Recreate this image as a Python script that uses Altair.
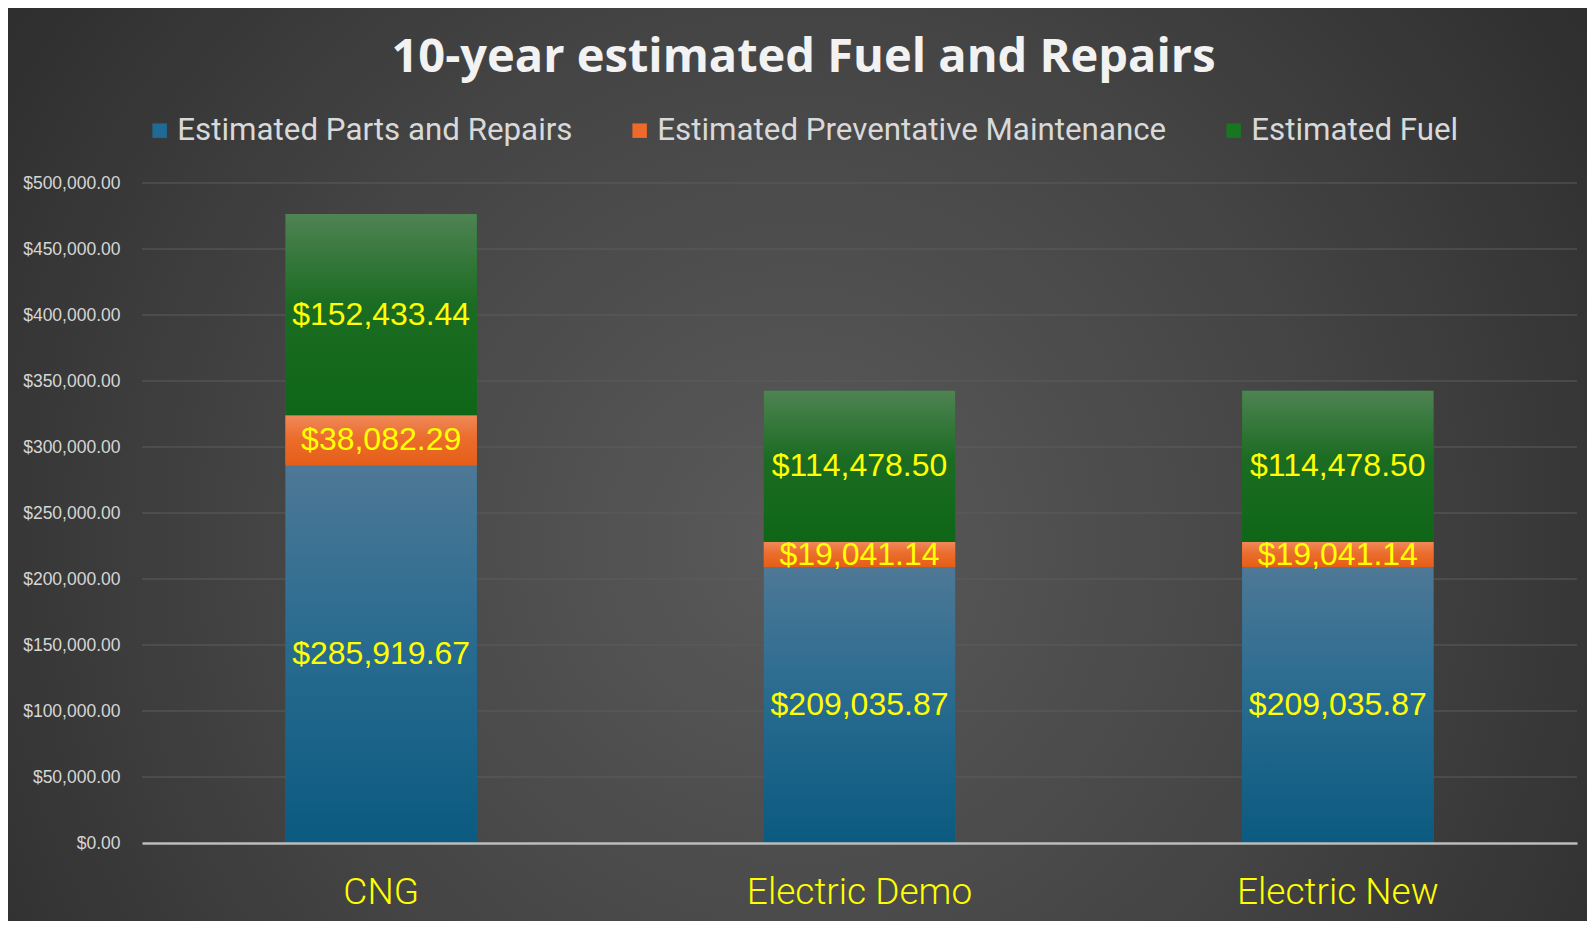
import altair as alt
import pandas as pd

categories = ["CNG", "Electric Demo", "Electric New"]
series_names = ["Estimated Parts and Repairs", "Estimated Preventative Maintenance", "Estimated Fuel"]
parts_repairs = [285919.67, 209035.87, 209035.87]
preventative = [38082.29, 19041.14, 19041.14]
fuel = [152433.44, 114478.50, 114478.50]
y_ticks = [0, 50000, 100000, 150000, 200000, 250000, 300000, 350000, 400000, 450000, 500000]

solid_colors = ["#1f6b96", "#ee6a2a", "#17761f"]

rows = []
for i, cat in enumerate(categories):
    base = 0.0
    for s, vals in zip(series_names, [parts_repairs, preventative, fuel]):
        v = vals[i]
        rows.append({"category": cat, "series": s, "value": v,
                     "start": base, "end": base + v, "mid": base + v / 2})
        base += v
df = pd.DataFrame(rows)
grid_df = pd.DataFrame({"tick": y_ticks[1:]})

W, H = 1435, 660
PAD_L, PAD_T = 134, 175
TOTAL_W, TOTAL_H = 1579, 913

xenc = alt.X("category:N", sort=categories, title=None,
             scale=alt.Scale(paddingInner=0.6, paddingOuter=0.3),
             axis=alt.Axis(labelColor="#ffff00", labelFont="Roboto", labelFontWeight=300,
                           labelFontSize=37, labelAngle=0, ticks=False, grid=False,
                           labelLimit=1000,
                           domainColor="#bdbdbd", domainWidth=2.5, labelPadding=31,
                           zindex=1))
yscale = alt.Scale(domain=[0, 500000], nice=False)

bg = alt.Chart(pd.DataFrame({"a": [0]})).mark_rect(
    fill=alt.Gradient(gradient="radial",
                      stops=[alt.GradientStop(color="#5a5a5a", offset=0),
                             alt.GradientStop(color="#444444", offset=0.45),
                             alt.GradientStop(color="#222222", offset=1)],
                      x1=0.5, y1=0.55, r1=0, x2=0.5, y2=0.55, r2=0.75)
).encode(x=alt.value(-PAD_L), x2=alt.value(TOTAL_W - PAD_L),
         y=alt.value(-PAD_T), y2=alt.value(TOTAL_H - PAD_T))

grid = alt.Chart(grid_df).mark_rule(color="#5c5c5c", strokeWidth=1.2).encode(
    y=alt.Y("tick:Q", scale=yscale), x=alt.value(0), x2=alt.value(W))

solid = alt.Chart(df).mark_bar().encode(
    x=xenc,
    y=alt.Y("start:Q", scale=yscale,
            axis=alt.Axis(values=y_ticks, format="$,.2f", labelColor="#d6d6d6",
                          labelFont="Liberation Sans", labelFontSize=17.5, domain=False,
                          ticks=False, grid=False, labelPadding=22, title=None, zindex=1)),
    y2="end:Q",
    color=alt.Color("series:N", scale=alt.Scale(domain=series_names, range=solid_colors),
                    legend=alt.Legend(orient="none", legendX=2, legendY=-68,
                                      direction="horizontal", title=None,
                                      symbolType="square", symbolSize=210,
                                      symbolStrokeWidth=0,
                                      labelColor="#d9d9d9", labelFont="Roboto",
                                      labelFontSize=31.3, labelLimit=2000,
                                      labelOffset=2, columnPadding=51,
                                      padding=0, zindex=1)),
)

grads = {
    series_names[0]: ["#4e7896", "#2a6c90", "#0b5a80"],
    series_names[1]: ["#f0895a", "#eb6d2c", "#e55e18"],
    series_names[2]: ["#4f8353", "#1b6c22", "#0f6617"],
}
grad_layers = []
for s in series_names:
    c = grads[s]
    grad_layers.append(
        alt.Chart(df).transform_filter(alt.datum.series == s).mark_bar(
            fill=alt.Gradient(gradient="linear",
                              stops=[alt.GradientStop(color=c[0], offset=0),
                                     alt.GradientStop(color=c[1], offset=0.45),
                                     alt.GradientStop(color=c[2], offset=1)],
                              x1=0, x2=0, y1=0, y2=1)
        ).encode(x=alt.X("category:N", sort=categories), y=alt.Y("start:Q", scale=yscale),
                 y2="end:Q")
    )

labels = alt.Chart(df).mark_text(color="#ffff00", font="Liberation Sans", fontSize=32,
                                 baseline="middle", align="center").encode(
    x=alt.X("category:N", sort=categories),
    y=alt.Y("mid:Q", scale=yscale),
    text=alt.Text("value:Q", format="$,.2f"))

chart = alt.layer(bg, grid, solid, *grad_layers, labels).properties(
    width=W, height=H,
    title=alt.TitleParams("10-year estimated Fuel and Repairs", font="Open Sans",
                          fontWeight="bold", fontSize=47, color="#f2f2f2",
                          anchor="middle", frame="group", baseline="middle",
                          dx=-56, dy=97, offset=0, zindex=1),
    autosize=alt.AutoSizeParams(type="none"),
    padding={"left": PAD_L, "top": PAD_T, "right": TOTAL_W - PAD_L - W,
             "bottom": TOTAL_H - PAD_T - H},
    background="#262626",
).configure_view(stroke=None, fill=None)

chart.save("out.html", embed_options={"renderer": "svg", "actions": False})
